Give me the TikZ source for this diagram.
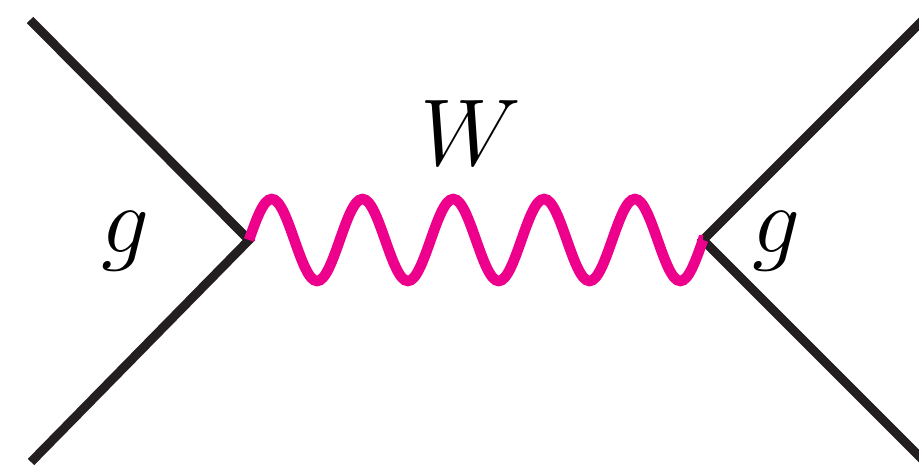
\RequirePackage{fix-cm}
\documentclass[tikz,border=0pt]{standalone}
\definecolor{lineblack}{HTML}{231F20}
\definecolor{wmagenta}{HTML}{EC008C}
\begin{document}
\begin{tikzpicture}[x=1pt,y=-1pt,
  fermion/.style={draw=lineblack,line width=9pt,line join=miter,line cap=butt},
  boson/.style={draw=wmagenta,line width=10.5pt,line cap=butt},
  lbl/.style={inner sep=0pt,font=\fontsize{95}{95}\selectfont}]
\useasboundingbox (0,0) rectangle (919,471);
\coordinate (tl) at (30,20);
\coordinate (bl) at (31,462);
\coordinate (v1) at (249,240);
\coordinate (v2) at (703,240);
\coordinate (tr) at (940,3);
\coordinate (br) at (940,477);
\draw[fermion] (tl) -- (v1) -- (bl);
\draw[fermion] (tr) -- (v2) -- (br);
\draw[boson] (v1) \foreach \i in {1,...,5} {
   sin ++(22.7,-41) cos ++(22.7,41) sin ++(22.7,41) cos ++(22.7,-41) } -- (v2);
\node[lbl] (g1) at (125,241) {$g$};
\node[lbl] (g2) at (776,241) {$g$};
\node[lbl] (w) at (471,133) {$W$};
\end{tikzpicture}
\end{document}
